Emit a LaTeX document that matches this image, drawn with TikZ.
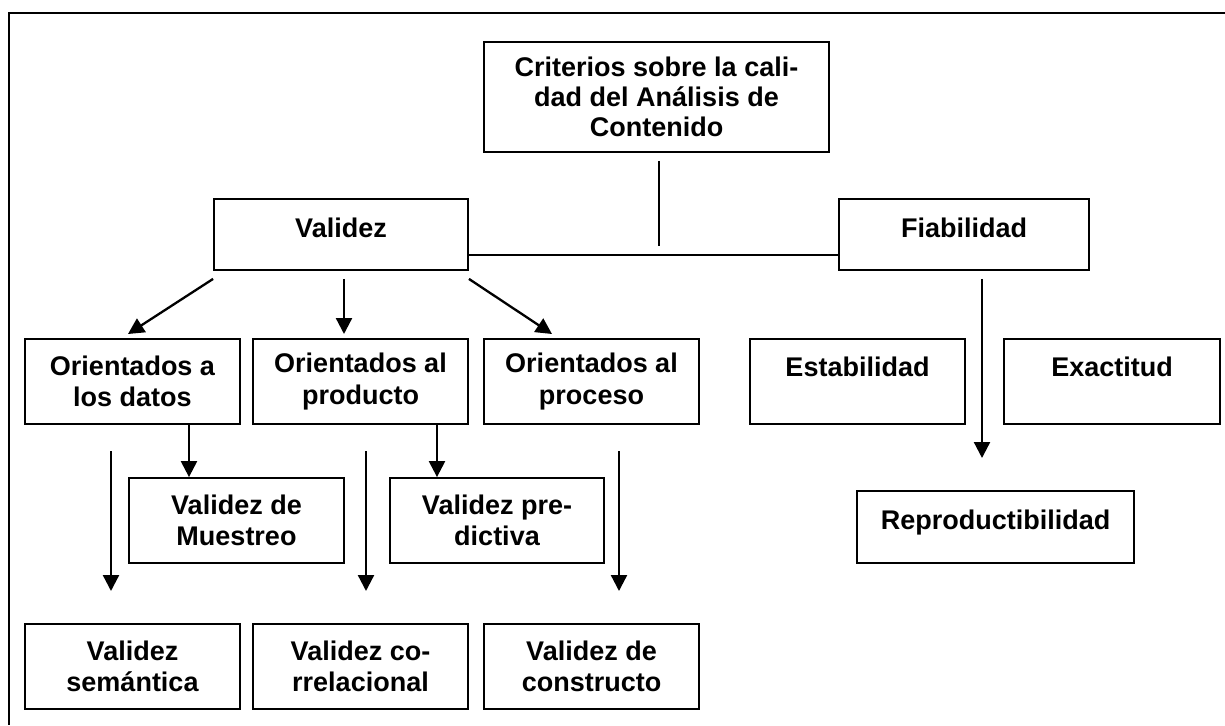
\documentclass[tikz,border=0pt]{standalone}
\usepackage{fontspec}
\setmainfont{Liberation Sans}
\usetikzlibrary{arrows.meta}

\begin{document}
\begin{tikzpicture}[x=1pt,y=-1pt]
                \useasboundingbox (0,0) rectangle (1225,725);
                \draw[line width=2.2pt] (1225,13) -- (9,13) -- (9,725);
                \begin{scope}[every node/.style={draw, line width=1.8pt, inner sep=0pt, align=center, minimum width=215pt, minimum height=85pt, font=\bfseries\fontsize{27}{31.5}\selectfont}]
                        \node[minimum width=345pt, minimum height=110pt, font=\bfseries\fontsize{27}{30}\selectfont] (Crit) at (656.5,97) {Criterios sobre la cali-\\dad del Análisis de\\Contenido};
                        \node[minimum width=254pt, minimum height=71pt, text height=38pt, text depth=33pt] (Val) at (341,234.5) {Validez};
                        \node[minimum width=250pt, minimum height=71pt, text height=38pt, text depth=33pt] (Fia) at (964,234.5) {Fiabilidad};
                        \node (OD) at (132.5,381.5) {Orientados a\\los datos};
                        \node (OP) at (360.5,381.5) {Orientados al\\producto};
                        \node (OPr) at (591.5,381.5) {Orientados al\\proceso};
                        \node[text height=37pt, text depth=48pt] (Est) at (857.5,381.5) {Estabilidad};
                        \node[minimum width=216pt, text height=37pt, text depth=48pt] (Exa) at (1112,381.5) {Exactitud};
                        \node (VM) at (236.5,520.5) {Validez de\\Muestreo};
                        \node[minimum width=214pt] (VP) at (497,520.5) {Validez pre-\\dictiva};
                        \node[minimum width=277pt, minimum height=72pt, text height=38pt, text depth=34pt] (Rep) at (995.5,527) {Reproductibilidad};
                        \node (VS) at (132.5,666.5) {Validez\\semántica};
                        \node (VC) at (360.5,666.5) {Validez co-\\rrelacional};
                        \node (VCo) at (591.5,666.5) {Validez de\\constructo};
                \end{scope}
                % puntos libres de las flechas
                \coordinate (pA) at (128,334);
                \coordinate (pB) at (344,334);
                \coordinate (pC) at (552,334);
                \coordinate (xMue) at (189,0);
                \coordinate (xPre) at (437,0);
                \coordinate (sS) at (111,451);
                \coordinate (tS) at (111,591);
                \coordinate (sC) at (366,451);
                \coordinate (tC) at (366,591);
                \coordinate (sCo) at (619,451);
                \coordinate (tCo) at (619,591);
                \coordinate (tRep) at (982,458);
                \coordinate (eCrit) at (659,246);
                \coordinate (hLin) at (0,255);
                \draw[line width=1.2pt] ([xshift=2.5pt,yshift=-8pt]Crit.south) -- (eCrit);
                \draw[line width=2.2pt] (Val.east |- hLin) -- (Fia.west |- hLin);
                \begin{scope}[every path/.style={line width=2.3pt, -{Triangle[length=16pt,width=16pt]}}]
                        \path ([yshift=-8pt]Val.south west) edge (pA);
                        \path ([xshift=3pt,yshift=-8pt]Val.south) edge (pB);
                        \path ([yshift=-8pt]Val.south east) edge (pC);
                        \path (OD.south -| xMue) edge (VM.north -| xMue);
                        \path (OP.south -| xPre) edge (VP.north -| xPre);
                        \path (sS) edge (tS);
                        \path (sC) edge (tC);
                        \path (sCo) edge (tCo);
                        \path ([xshift=18pt,yshift=-8pt]Fia.south) edge (tRep);
                \end{scope}
        \end{tikzpicture}
\end{document}
